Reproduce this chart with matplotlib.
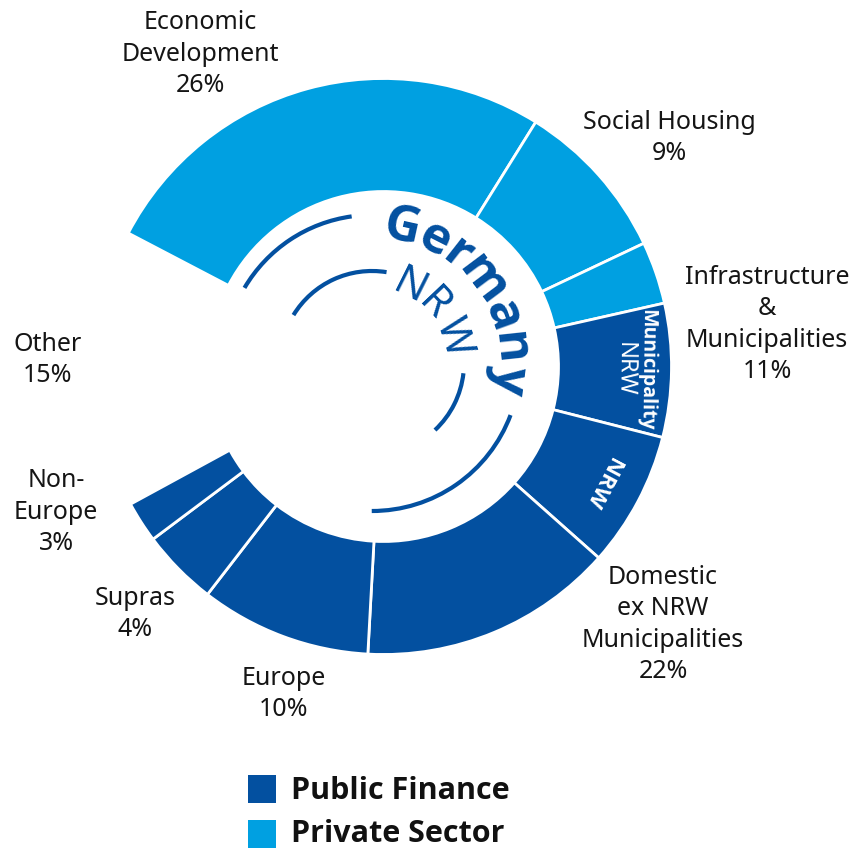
import os
import matplotlib.pyplot as plt
from matplotlib import font_manager as fm
from matplotlib.patches import Arc, Rectangle
import numpy as np

plt.rcParams['font.family'] = ['Noto Sans', 'DejaVu Sans']

# ring segments, clockwise from the upper-left edge (share of the full circle, %)
segments = ['Economic Development', 'Social Housing', 'Infrastructure (private)',
            'Municipality NRW', 'NRW', 'Domestic ex NRW', 'Europe', 'Supras',
            'Non-Europe', 'Other']
shares = [26.2, 9.1, 3.5, 7.5, 7.6, 14.3, 9.6, 4.3, 2.3, 15.6]
sectors = ['private', 'private', 'private', 'public', 'public', 'public',
           'public', 'public', 'public', 'other']

# outside labels
label_texts = ['Economic\nDevelopment\n26%', 'Social Housing\n9%',
               'Infrastructure\n&\nMunicipalities\n11%',
               'Domestic\nex NRW\nMunicipalities\n22%', 'Europe\n10%',
               'Supras\n4%', 'Non-\nEurope\n3%', 'Other\n15%']
legend_names = ['Public Finance', 'Private Sector']

DARK = '#0350A0'
LIGHT = '#00A0E1'
sector_colors = {'public': DARK, 'private': LIGHT, 'other': 'white'}


def bold_family():
    # first family that really has a bold face installed
    for fam in ['Noto Sans', 'Open Sans', 'Lato', 'Roboto', 'Inter', 'Liberation Sans']:
        try:
            path = fm.findfont(fm.FontProperties(family=fam, weight='bold'),
                               fallback_to_default=False)
        except ValueError:
            continue
        if 'bold' in os.path.basename(path).lower():
            return fam
    return 'DejaVu Sans'


BOLD = [bold_family(), 'DejaVu Sans']

W, H = 851, 849
fig = plt.figure(figsize=(W / 100, H / 100), dpi=100)
ax = fig.add_axes([0, 0, 1, 1])

ring_c = (383.5, H - 366.5)
r_out, r_in = 288, 175

wedges, _ = ax.pie(shares, colors=[sector_colors[s] for s in sectors],
                   startangle=152.4, counterclock=False, radius=r_out,
                   center=ring_c,
                   wedgeprops=dict(width=r_out - r_in, edgecolor='white', linewidth=2))
wedges[-1].set_visible(False)


def polar(r, deg, c):
    a = np.radians(deg)
    return c[0] + r * np.cos(a), c[1] + r * np.sin(a)


def mid(w):
    return (w.theta1 + w.theta2) / 2


# texts inside the ring
x, y = polar(263, mid(wedges[3]), ring_c)
ax.text(x, y, 'Municipality', rotation=mid(wedges[3]) - 90, ha='center', va='center',
        color='white', fontsize=14, family=BOLD, fontweight='bold')
x, y = polar(241, mid(wedges[3]), ring_c)
ax.text(x, y, 'NRW', rotation=mid(wedges[3]) - 90, ha='center', va='center',
        color='white', fontsize=17)
x, y = polar(248, mid(wedges[4]), ring_c)
ax.text(x, y, 'NRW', rotation=mid(wedges[4]) - 90, ha='center', va='center',
        color='white', fontsize=16, family=BOLD, fontweight='bold')

# curved "Germany" / "NRW" in the hole
text_c = (372, H - 363)
for ch, ang in zip('Germany', [77.6, 63.1, 51.9, 36.8, 19.8, 6.1, -7.3]):
    x, y = polar(125, ang, text_c)
    ax.text(x, y, ch, rotation=ang - 90, rotation_mode='anchor', ha='center',
            va='baseline', color=DARK, fontsize=36, family=BOLD, fontweight='bold')
for ch, ang in zip('NRW', [63.5, 43.5, 18]):
    x, y = polar(74, ang, text_c)
    ax.text(x, y, ch, rotation=ang - 90, rotation_mode='anchor', ha='center',
            va='baseline', color=DARK, fontsize=30)

for r, t1, t2 in [(148, 97.9, 149.5), (148, -90.1, -20.6), (92, 80.9, 148.6), (92, -46.8, -6.4)]:
    ax.add_patch(Arc(text_c, 2 * r, 2 * r, theta1=t1, theta2=t2, color=DARK, lw=3))

# outside labels (x centre, last-line baseline in image pixels)
label_pos = [(200, 92), (669, 160), (767, 378), (663, 678), (284, 716),
             (135, 636), (56, 550), (48, 382)]
for txt, (lx, ly) in zip(label_texts, label_pos):
    ax.text(lx, H - ly, txt, ha='center', va='baseline', multialignment='center',
            fontsize=18, color='#151515', linespacing=1.33)

# legend
for name, col, ly, dy in zip(legend_names, [DARK, LIGHT], [803, 848], [4, 6]):
    ax.add_patch(Rectangle((248, H - ly), 28, 28, color=col, lw=0))
    ax.text(291, H - ly + dy, name, ha='left', va='baseline', fontsize=22,
            family=BOLD, fontweight='bold', color='#111111')

ax.set_xlim(0, W)
ax.set_ylim(0, H)
ax.set_aspect('auto')
ax.axis('off')
fig.savefig('out.png', dpi=100)
